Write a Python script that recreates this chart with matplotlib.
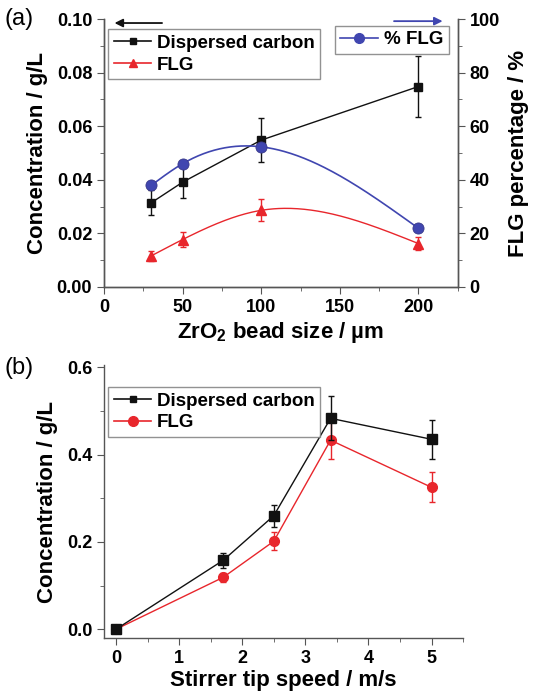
import numpy as np
import matplotlib
matplotlib.use('Agg')
import matplotlib.pyplot as plt
from matplotlib.ticker import MultipleLocator, FormatStrFormatter
from matplotlib.lines import Line2D

plt.rcParams['font.family'] = ['Liberation Sans', 'DejaVu Sans']
plt.rcParams['font.weight'] = 'bold'
plt.rcParams['mathtext.fontset'] = 'custom'
plt.rcParams['mathtext.bf'] = 'Liberation Sans:bold'
plt.rcParams['mathtext.rm'] = 'Liberation Sans:bold'
plt.rcParams['mathtext.default'] = 'bf'

# panel (a) data: bead size
bead_size = [30, 50, 100, 200]
carbon_a = [0.0314, 0.0391, 0.0548, 0.0748]
carbon_a_err = [0.0047, 0.0058, 0.0083, 0.0114]
flg_a = [0.0116, 0.0177, 0.0286, 0.0162]
flg_a_err = [0.0019, 0.0029, 0.0041, 0.0025]
pct_flg = [37.9, 46.0, 52.3, 21.9]

# panel (b) data: stirrer tip speed
tip_speed = [0, 1.7, 2.5, 3.4, 5]
carbon_b = [0.0, 0.158, 0.260, 0.483, 0.435]
carbon_b_err = [0.0, 0.017, 0.025, 0.050, 0.044]
flg_b = [0.0, 0.119, 0.2015, 0.433, 0.325]
flg_b_err = [0.0, 0.010, 0.021, 0.043, 0.034]

BLACK = '#111111'
RED = '#e8262c'
BLUE = '#4046b0'
SPINE = '#555555'


def natural_spline(x, y, n=200):
    # smooth curve through the points (like Origin's spline connect)
    x = np.asarray(x, float)
    y = np.asarray(y, float)
    k = len(x)
    h = np.diff(x)
    A = np.zeros((k, k))
    r = np.zeros(k)
    A[0, 0] = A[-1, -1] = 1
    for i in range(1, k - 1):
        A[i, i - 1] = h[i - 1]
        A[i, i] = 2 * (h[i - 1] + h[i])
        A[i, i + 1] = h[i]
        r[i] = 3 * ((y[i + 1] - y[i]) / h[i] - (y[i] - y[i - 1]) / h[i - 1])
    c = np.linalg.solve(A, r)
    xs = np.linspace(x[0], x[-1], n)
    ys = np.empty_like(xs)
    for j, xv in enumerate(xs):
        i = min(np.searchsorted(x, xv, side='right') - 1, k - 2)
        b = (y[i + 1] - y[i]) / h[i] - h[i] * (2 * c[i] + c[i + 1]) / 3
        d = (c[i + 1] - c[i]) / (3 * h[i])
        dx = xv - x[i]
        ys[j] = y[i] + b * dx + c[i] * dx ** 2 + d * dx ** 3
    return xs, ys


def style_axis(ax):
    for s in ax.spines.values():
        s.set_color(SPINE)
        s.set_linewidth(1.0)
    ax.tick_params(which='both', direction='out', color=SPINE, labelsize=13)
    ax.tick_params(which='major', length=5)
    ax.tick_params(which='minor', length=3)


def make_legend(ax, handles, loc, anchor):
    leg = ax.legend(handles=handles, loc=loc, bbox_to_anchor=anchor, fontsize=13.5,
                    frameon=True, fancybox=False, edgecolor='#777777', handlelength=2.0,
                    handletextpad=0.3, borderpad=0.3, labelspacing=0.25, borderaxespad=0)
    leg.get_frame().set_linewidth(1.0)
    return leg


fig = plt.figure(figsize=(5.36, 6.91), dpi=100)

# ---------------- panel (a)
ax1 = fig.add_axes([0.194, 0.5847, 0.660, 0.3878])
ax2 = ax1.twinx()
style_axis(ax1)
style_axis(ax2)
ax1.spines['top'].set_visible(False)
ax2.spines['top'].set_visible(False)

ax1.errorbar(bead_size, carbon_a, yerr=carbon_a_err, color=BLACK, marker='s', ms=6,
             lw=1.0, capsize=2.5, elinewidth=1.0, zorder=3)
xs, ys = natural_spline(bead_size, flg_a)
ax1.plot(xs, ys, color=RED, lw=1.0, zorder=2)
ax1.errorbar(bead_size, flg_a, yerr=flg_a_err, color=RED, marker='^', ms=6.5, ls='none',
             capsize=2.5, elinewidth=1.0, zorder=3)

xs, ys = natural_spline(bead_size, pct_flg)
ax2.plot(xs, ys, color=BLUE, lw=1.2)
ax2.plot(bead_size, pct_flg, color=BLUE, marker='o', ms=8, ls='none', mec='#3a3a8a', mew=0.6)

ax1.set_xlim(0, 225)
ax1.set_ylim(0, 0.10)
ax2.set_ylim(0, 100)
ax1.xaxis.set_major_locator(MultipleLocator(50))
ax1.xaxis.set_minor_locator(MultipleLocator(25))
ax1.yaxis.set_major_locator(MultipleLocator(0.02))
ax1.yaxis.set_minor_locator(MultipleLocator(0.01))
ax1.yaxis.set_major_formatter(FormatStrFormatter('%.2f'))
ax2.yaxis.set_major_locator(MultipleLocator(20))
ax2.yaxis.set_minor_locator(MultipleLocator(10))

ax1.set_xlabel(r'ZrO$_\mathbf{2}$ bead size / µm', fontsize=16, fontweight='bold', labelpad=3)
ax1.set_ylabel('Concentration / g/L', fontsize=16, fontweight='bold', labelpad=6)
ax2.set_ylabel('FLG percentage / %', fontsize=16, fontweight='bold', labelpad=6)

make_legend(ax1, [Line2D([], [], color=BLACK, marker='s', ms=5, lw=1.2, label='Dispersed carbon'),
                  Line2D([], [], color=RED, marker='^', ms=6, lw=1.2, label='FLG')],
            'upper left', (0.012, 0.962))
make_legend(ax2, [Line2D([], [], color=BLUE, marker='o', ms=7, lw=1.2, label='% FLG')],
            'upper right', (0.974, 0.975))

ax1.annotate('', xy=(0.022, 0.985), xytext=(0.172, 0.985), xycoords='axes fraction',
             arrowprops=dict(arrowstyle='-|>', color=BLACK, lw=1.3, mutation_scale=12))
ax1.annotate('', xy=(0.965, 0.992), xytext=(0.812, 0.992), xycoords='axes fraction',
             arrowprops=dict(arrowstyle='-|>', color=BLUE, lw=1.3, mutation_scale=12))

fig.text(0.008, 0.972, '(a)', fontsize=17, fontweight='normal', va='center')

# ---------------- panel (b)
ax3 = fig.add_axes([0.194, 0.0767, 0.670, 0.395])
style_axis(ax3)
ax3.spines['top'].set_visible(False)
ax3.spines['right'].set_visible(False)

ax3.errorbar(tip_speed, carbon_b, yerr=carbon_b_err, color=BLACK, marker='s', ms=6.5,
             lw=1.0, capsize=2.5, elinewidth=1.0, zorder=3)
ax3.errorbar(tip_speed, flg_b, yerr=flg_b_err, color=RED, marker='o', ms=7,
             lw=1.0, capsize=2.5, elinewidth=1.0, zorder=2)

ax3.set_xlim(-0.19, 5.5)
ax3.set_ylim(-0.02, 0.605)
ax3.xaxis.set_major_locator(MultipleLocator(1))
ax3.xaxis.set_minor_locator(MultipleLocator(0.5))
ax3.yaxis.set_major_locator(MultipleLocator(0.2))
ax3.yaxis.set_minor_locator(MultipleLocator(0.1))
ax3.yaxis.set_major_formatter(FormatStrFormatter('%.1f'))
ax3.set_xlabel('Stirrer tip speed / m/s', fontsize=16, fontweight='bold', labelpad=2)
ax3.set_ylabel('Concentration / g/L', fontsize=16, fontweight='bold', labelpad=6)

make_legend(ax3, [Line2D([], [], color=BLACK, marker='s', ms=5, lw=1.2, label='Dispersed carbon'),
                  Line2D([], [], color=RED, marker='o', ms=7, lw=1.2, label='FLG')],
            'upper left', (0.012, 0.92))

fig.text(0.008, 0.467, '(b)', fontsize=17, fontweight='normal', va='center')

fig.savefig('out.png', dpi=100)
